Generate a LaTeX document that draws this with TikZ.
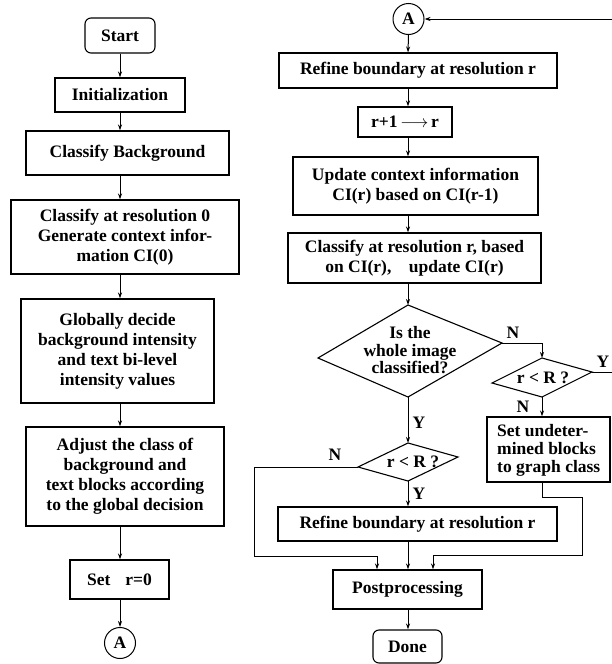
\documentclass[tikz,border=0pt]{standalone}
\usepackage{fontspec}
\setmainfont{Liberation Serif}
\usetikzlibrary{arrows.meta}
\begin{document}
\begin{tikzpicture}[x=1pt,y=-1pt,
  every node/.style={font=\fontsize{17.5}{20}\selectfont\bfseries},
  box/.style={draw,line width=1.1pt,inner sep=0pt,align=center},
  term/.style={box,rounded corners=6pt},
  conn/.style={draw,circle,line width=1pt,inner sep=0pt,minimum size=31pt},
  arr/.style={line width=1pt,-{Stealth[length=6pt,width=4pt]}},
  ln/.style={line width=1.1pt},
  lbl/.style={inner sep=0pt}
]
\useasboundingbox (0,0) rectangle (611,664);

% ---------- left column ----------
\node[term,minimum width=70pt,minimum height=35pt] (start) at (120,35.5) {Start};
\node[box,minimum width=130pt,minimum height=34pt] (init) at (120,95) {Initialization};
\node[box,minimum width=203pt,minimum height=44pt] (cb) at (127.5,153) {Classify Background};
\node[box,minimum width=228pt,minimum height=74pt] (c0) at (125,237) {Classify at resolution 0\\Generate context infor-\\mation CI(0)};
\node[box,minimum width=193pt,minimum height=104pt] (gd) at (117.5,351) {Globally decide\\background intensity\\and text bi-level\\intensity values};
\node[box,minimum width=198pt,minimum height=99pt] (adj) at (125,476.5) {Adjust the class of\\background and\\text blocks according\\to the global decision};
\node[box,minimum width=99pt,minimum height=39pt] (set) at (119.5,579.5) {Set\hspace{0.6em} r=0};
\node[conn] (A1) at (120,643) {A};

\draw[arr] (start.south) -- (init.north);
\draw[arr] (init.south) -- (init.south |- cb.north);
\draw[arr] (init.south |- cb.south) -- (init.south |- c0.north);
\draw[arr] (init.south |- c0.south) -- (init.south |- gd.north);
\draw[arr] (init.south |- gd.south) -- (init.south |- adj.north);
\draw[arr] (init.south |- adj.south) -- (init.south |- set.north);
\draw[arr] (init.south |- set.south) -- (A1.north);

% ---------- right column ----------
\node[conn] (A2) at (408.5,19) {A};
\node[box,minimum width=278pt,minimum height=35pt] (rf1) at (418,70.5) {Refine boundary at resolution r};
\node[box,minimum width=94pt,minimum height=30pt] (rr) at (405,122) {r+1\,$\longrightarrow$\,r};
\node[box,minimum width=245pt,minimum height=58pt] (upd) at (415.5,186) {Update context information\\CI(r) based on CI(r-1)};
\node[box,minimum width=253pt,minimum height=50pt] (cr) at (414.5,258) {Classify at resolution r, based\\on CI(r),\hspace{1em}update CI(r)};

\coordinate (col) at (408,0);
\draw[arr] (A2.south) -- (col |- rf1.north);
\draw[arr] (col |- rf1.south) -- (col |- rr.north);
\draw[arr] (col |- rr.south) -- (col |- upd.north);
\draw[arr] (col |- upd.south) -- (col |- cr.north);

% diamond 1
\coordinate (d1t) at (408,305);
\coordinate (d1l) at (318,358);
\coordinate (d1r) at (502,343);
\coordinate (d1b) at (408,397);
\draw[ln] (d1t) -- (d1r) -- (d1b) -- (d1l) -- cycle;
\node[align=center,inner sep=0pt,font=\fontsize{17.5}{17.5}\selectfont\bfseries] (q1) at (410,350.5) {Is the\\whole image\\classified?};
\draw[arr] (col |- cr.south) -- (d1t);

% diamond 2 (right)
\coordinate (d2t) at (542,358);
\coordinate (d2l) at (492,383);
\coordinate (d2r) at (592,372);
\coordinate (d2b) at (542,397);
\draw[ln] (d2t) -- (d2r) -- (d2b) -- (d2l) -- cycle;
\node[lbl] (q2) at (543,378) {r < R ?};

% diamond 3 (left)
\coordinate (d3t) at (408,443);
\coordinate (d3l) at (358,467);
\coordinate (d3r) at (458,457);
\coordinate (d3b) at (408,481);
\draw[ln] (d3t) -- (d3r) -- (d3b) -- (d3l) -- cycle;
\node[lbl] (q3) at (413,462) {r < R ?};

\node[box,minimum width=123pt,minimum height=65pt] (sb) at (548.5,449.5) {};
\node[lbl,anchor=west,align=left,font=\fontsize{17.5}{18}\selectfont\bfseries] (sbt) at (497,450) {Set undeter-\\mined blocks\\to graph class};

\node[box,minimum width=279pt,minimum height=34pt] (rf2) at (417.5,524) {Refine boundary at resolution r};
\node[box,minimum width=149pt,minimum height=39pt] (post) at (407.5,589.5) {Postprocessing};
\node[term,minimum width=69pt,minimum height=33pt] (done) at (407.5,646.5) {Done};

% connectors
\coordinate (loopx) at (630,0);
\draw[arr] (d1r) -- (d2t |- d1r) -- (d2t);
\node[lbl] (n1) at (513,333) {N};
\draw[arr] (d2r) -- (loopx |- d2r) -- (loopx |- A2) -- (A2.east);
\node[lbl] (y2) at (603,362) {Y};
\draw[arr] (d2b) -- (d2b |- sb.north);
\node[lbl] (n2) at (523,407) {N};

\draw[arr] (d1b) -- (d3t);
\node[lbl] (y1) at (419,423) {Y};
\draw[arr] (d3b) -- (col |- rf2.north);
\node[lbl] (y3) at (419,494) {Y};
\node[lbl] (n3) at (335,455) {N};

\coordinate (lx) at (254,556);
\draw[arr] (d3l) -- (lx |- d3l) -- (lx) -- (377,556) -- (377,0 |- post.north);
\draw[arr] (col |- rf2.south) -- (col |- post.north);
\draw[arr] (542,0 |- sb.south) -- (542,497) -- (582,497) -- (582,555) -- (433,555) -- (433,0 |- post.north);
\draw[arr] (col |- post.south) -- (col |- done.north);
\end{tikzpicture}
\end{document}
